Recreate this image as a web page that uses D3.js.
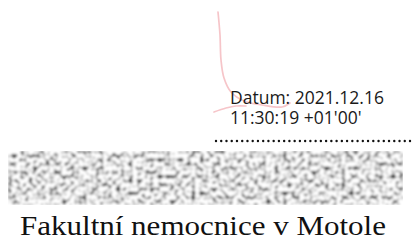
<!DOCTYPE html>
<html>
<head>
<meta charset="utf-8">
<script src="https://cdn.jsdelivr.net/npm/d3@7"></script>
<style>
  html, body { margin: 0; padding: 0; background: #fff; }
  svg { display: block; }
</style>
</head>
<body>
<div id="chart"></div>
<script>
// signature block contents
const dateLines = ['Datum: 2021.12.16', "11:30:19 +01'00'"]
const orgName = 'Fakultní nemocnice v Motole'
const dotCount = 38

const width = 414
const height = 241

const svg = d3.select('#chart')
  .append('svg')
  .attr('width', width)
  .attr('height', height)

// pink pen strokes of the handwritten mark
const strokes = [
  [[218, 12], [220, 35], [221, 60], [224, 78], [231, 92], [244, 101], [262, 105], [282, 107], [290, 103]],
  [[214, 112], [226, 108], [236, 106], [246, 106]]
]
const line = d3.line().curve(d3.curveCatmullRom)

svg.append('g')
  .selectAll('path')
  .data(strokes)
  .join('path')
  .attr('d', line)
  .attr('fill', 'none')
  .attr('stroke', '#f4b6bc')
  .attr('stroke-opacity', 0.8)
  .attr('stroke-width', 1.7)
  .attr('stroke-linecap', 'round')

// date text
svg.append('g')
  .selectAll('text')
  .data(dateLines)
  .join('text')
  .attr('x', 230)
  .attr('y', (d, i) => 104 + i * 20)
  .style('font-family', '"Open Sans", sans-serif')
  .style('font-size', '17.5px')
  .style('fill', '#1a1a1a')
  .text(d => d)

// dotted signature line
const xDots = d3.scaleLinear().domain([0, dotCount - 1]).range([216, 410])
svg.append('g')
  .selectAll('circle')
  .data(d3.range(dotCount))
  .join('circle')
  .attr('cx', d => xDots(d))
  .attr('cy', 141)
  .attr('r', 1.2)
  .attr('fill', '#111')

// noisy stamp band
const band = { x: 8, y: 151, w: 395, h: 54 }
const defs = svg.append('defs')
const filter = defs.append('filter')
  .attr('id', 'noise')
  .attr('filterUnits', 'userSpaceOnUse')
  .attr('x', band.x).attr('y', band.y)
  .attr('width', band.w).attr('height', band.h)
filter.append('feTurbulence')
  .attr('type', 'fractalNoise')
  .attr('baseFrequency', 0.24)
  .attr('numOctaves', 1)
  .attr('seed', 11)
  .attr('result', 'turb')
filter.append('feColorMatrix')
  .attr('in', 'turb')
  .attr('type', 'matrix')
  .attr('values', '3 0 0 0 -0.75  3 0 0 0 -0.75  3 0 0 0 -0.75  0 0 0 0 1')
  .attr('result', 'gray')
filter.append('feGaussianBlur')
  .attr('in', 'gray')
  .attr('stdDeviation', 0.8)

svg.append('rect')
  .attr('x', band.x)
  .attr('y', band.y)
  .attr('width', band.w)
  .attr('height', band.h)
  .attr('fill', '#fff')
  .attr('filter', 'url(#noise)')

// organisation name
svg.append('text')
  .attr('x', 20)
  .attr('y', 235)
  .attr('textLength', 366)
  .attr('lengthAdjust', 'spacingAndGlyphs')
  .style('font-family', '"Liberation Serif", "Times New Roman", serif')
  .style('font-size', '27px')
  .style('fill', '#111')
  .text(orgName)
</script>
</body>
</html>
